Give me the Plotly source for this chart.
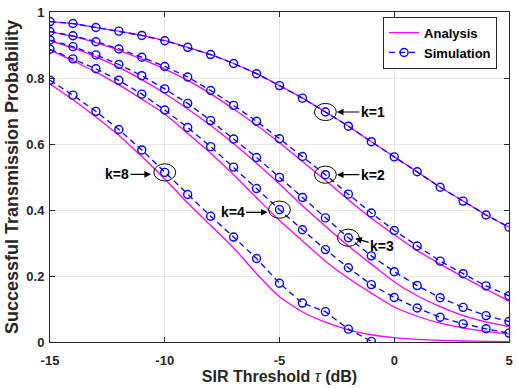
import plotly.graph_objects as go

# SIR threshold grid (dB)
sir_db = list(range(-15, 6))

# analysis curves (solid magenta)
ana_k1 = [0.971, 0.965, 0.953, 0.942, 0.929, 0.913, 0.893, 0.871, 0.844, 0.813, 0.777,
          0.739, 0.697, 0.654, 0.607, 0.561, 0.516, 0.469, 0.427, 0.385, 0.348]
ana_k2 = [0.940, 0.926, 0.907, 0.884, 0.857, 0.827, 0.793, 0.752, 0.706, 0.657, 0.604,
          0.547, 0.490, 0.431, 0.375, 0.325, 0.277, 0.236, 0.197, 0.160, 0.124]
ana_k3 = [0.913, 0.891, 0.864, 0.832, 0.795, 0.753, 0.706, 0.656, 0.601, 0.542, 0.479,
          0.413, 0.351, 0.291, 0.236, 0.182, 0.140, 0.107, 0.080, 0.061, 0.047]
ana_k4 = [0.885, 0.852, 0.818, 0.779, 0.736, 0.691, 0.632, 0.572, 0.507, 0.437, 0.368,
          0.306, 0.245, 0.193, 0.148, 0.106, 0.078, 0.057, 0.043, 0.032, 0.024]
ana_k8 = [0.782, 0.734, 0.682, 0.626, 0.562, 0.494, 0.421, 0.353, 0.285, 0.207, 0.137,
          0.091, 0.060, 0.037, 0.022, 0.013, 0.008, 0.005, 0.003, 0.002, 0.001]

# simulation curves (dashed blue, circle markers)
sim_k1 = [0.971, 0.965, 0.953, 0.942, 0.929, 0.913, 0.893, 0.871, 0.844, 0.813, 0.777,
          0.739, 0.697, 0.654, 0.607, 0.561, 0.516, 0.469, 0.427, 0.385, 0.348]
sim_k2 = [0.941, 0.928, 0.910, 0.888, 0.863, 0.835, 0.803, 0.762, 0.717, 0.669, 0.616,
          0.562, 0.507, 0.448, 0.391, 0.338, 0.291, 0.245, 0.207, 0.170, 0.140]
sim_k3 = [0.915, 0.895, 0.870, 0.841, 0.807, 0.767, 0.723, 0.671, 0.615, 0.559, 0.499,
          0.438, 0.376, 0.316, 0.261, 0.213, 0.171, 0.134, 0.105, 0.080, 0.062]
sim_k4 = [0.887, 0.858, 0.828, 0.793, 0.751, 0.703, 0.650, 0.592, 0.530, 0.465, 0.401,
          0.340, 0.280, 0.225, 0.174, 0.135, 0.103, 0.075, 0.055, 0.040, 0.027]
sim_k8 = [0.793, 0.748, 0.699, 0.644, 0.582, 0.514, 0.447, 0.381, 0.318, 0.253, 0.178,
          0.118, 0.092, 0.039, 0.002, None, None, None, None, None, None]

k_values = [1, 2, 3, 4, 8]
analysis = [ana_k1, ana_k2, ana_k3, ana_k4, ana_k8]
simulation = [sim_k1, sim_k2, sim_k3, sim_k4, sim_k8]

# circled points: k and the SIR value where the label points
label_k = [1, 2, 3, 4, 8]
label_x = [-3, -3, -2, -5, -10]

FONT = "Liberation Sans, Arial, Helvetica, sans-serif"
DARK = "#262626"

fig = go.Figure()

for i, k in enumerate(k_values):
    fig.add_trace(go.Scatter(
        x=sir_db, y=analysis[i], mode="lines", name="Analysis",
        line=dict(color="#ff00ff", width=1.3, shape="spline", smoothing=0.6),
        legendgroup="ana", showlegend=(i == 0),
    ))
for i, k in enumerate(k_values):
    fig.add_trace(go.Scatter(
        x=sir_db, y=simulation[i], mode="lines+markers", name="Simulation",
        line=dict(color="#0000ff", width=1.3, dash="6px,4px"),
        marker=dict(symbol="circle-open", size=8, color="#0000ff", line=dict(width=1.4)),
        legendgroup="sim", showlegend=(i == 0),
    ))

# ellipses + arrows for the k labels
half_w, half_h = 0.475, 0.026
arrow_cfg = {
    1: dict(dx=0.5, dy=0.0, ax=36, ay=0),
    2: dict(dx=0.5, dy=0.0, ax=36, ay=0),
    3: dict(dx=0.3, dy=-0.002, ax=27, ay=8),
    4: dict(dx=-0.52, dy=-0.008, ax=-35, ay=0),
    8: dict(dx=-0.6, dy=-0.006, ax=-34, ay=0),
}
for k, xc in zip(label_k, label_x):
    yc = simulation[k_values.index(k)][sir_db.index(xc)]
    fig.add_shape(type="circle", xref="x", yref="y",
                  x0=xc - half_w, x1=xc + half_w, y0=yc - half_h, y1=yc + half_h,
                  line=dict(color="black", width=1))
    c = arrow_cfg[k]
    fig.add_annotation(
        x=xc + c["dx"], y=yc + c["dy"], ax=c["ax"], ay=c["ay"],
        text=f"k={k}", showarrow=True, arrowhead=2, arrowsize=1.1, arrowwidth=1.2,
        arrowcolor="black", standoff=0,
        font=dict(family=FONT, size=14, color="black", weight="bold"),
    )

axis_common = dict(
    showline=True, linecolor=DARK, linewidth=1, mirror="allticks",
    ticks="inside", ticklen=5, tickcolor=DARK, tickwidth=1,
    showgrid=True, gridcolor="#e6e6e6", gridwidth=1, zeroline=False,
    tickfont=dict(family=FONT, size=13, color=DARK, weight="bold"),
)

fig.update_xaxes(
    range=[-15, 5], tickvals=[-15, -10, -5, 0, 5], ticktext=["-15", "-10", "-5", "0", "5"],
    ticklabelstandoff=6,
    title=dict(text='SIR Threshold <span style="font-weight:normal"><i>τ</i></span> (dB)',
               font=dict(family=FONT, size=16, color=DARK, weight="bold"), standoff=4),
    **axis_common,
)
fig.update_yaxes(
    range=[0, 1], tickvals=[0, 0.2, 0.4, 0.6, 0.8, 1], ticktext=["0", "0.2", "0.4", "0.6", "0.8", "1"],
    ticklabelstandoff=2,
    title=dict(text="Successful Transmission Probability",
               font=dict(family=FONT, size=18, color=DARK, weight="bold"), standoff=3),
    **axis_common,
)

fig.update_layout(
    width=518, height=388,
    margin=dict(l=50, r=5, t=10, b=46),
    paper_bgcolor="white", plot_bgcolor="white",
    showlegend=True,
    legend=dict(
        x=0.974, y=0.986, xanchor="right", yanchor="top",
        bgcolor="white", bordercolor=DARK, borderwidth=1,
        font=dict(family=FONT, size=13, color="black", weight="bold"),
        tracegroupgap=0, itemwidth=30,
    ),
)

# the page body has a default 8px margin; drop it so the figure fills the window
fig.write_html("out.html", config={"displayModeBar": False},
               post_script="document.body.style.margin = '0';")
